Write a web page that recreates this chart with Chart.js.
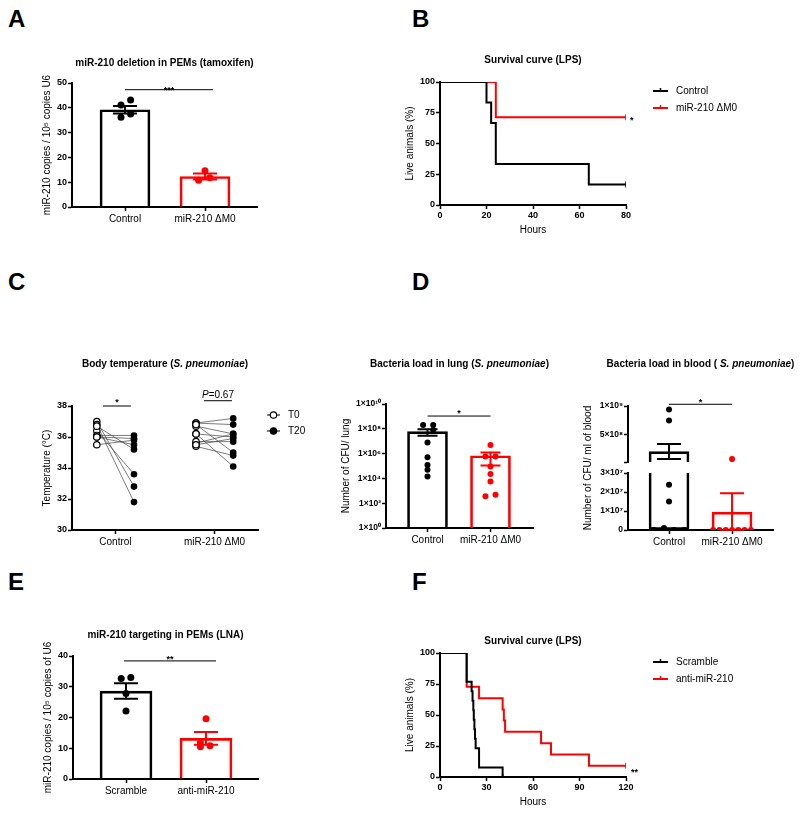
<!DOCTYPE html>
<html>
<head>
<meta charset="utf-8">
<title>miR-210 figure</title>
<script src="https://cdn.jsdelivr.net/npm/chart.js@4.4.1/dist/chart.umd.min.js"></script>
<style>
  html, body { margin: 0; background: #fff; }
  #fig { position: relative; width: 800px; height: 813px; overflow: hidden; font-family: "Liberation Sans", Arial, sans-serif; }
  #fig canvas { position: absolute; left: 0; top: 0; }
  .tag { position: absolute; font-size: 24px; font-weight: bold; line-height: 1; }
</style>
</head>
<body>
<div id="fig">
  <div class="tag" style="left:8px;top:7px">A</div>
  <div class="tag" style="left:412px;top:7px">B</div>
  <div class="tag" style="left:8px;top:270px">C</div>
  <div class="tag" style="left:412px;top:270px">D</div>
  <div class="tag" style="left:8px;top:570px">E</div>
  <div class="tag" style="left:412px;top:570px">F</div>
  <canvas id="chartA" width="800" height="813"></canvas>
  <canvas id="chartB" width="800" height="813"></canvas>
  <canvas id="chartC" width="800" height="813"></canvas>
  <canvas id="chartLung" width="800" height="813"></canvas>
  <canvas id="chartBloodTop" width="800" height="813"></canvas>
  <canvas id="chartBloodBot" width="800" height="813"></canvas>
  <canvas id="chartE" width="800" height="813"></canvas>
  <canvas id="chartF" width="800" height="813"></canvas>
</div>
<script>
// ---------- data ----------

// A - miR-210 deletion in PEMs (tamoxifen)
const aGroups = ['Control', 'miR-210 ΔM0'];
const aMean = [39.2, 12.3];
const aSem = [1.5, 1.2];
const aCtrl = [43.1, 41.1, 37.5, 36.2];
const aCtrlJitter = [0.07, -0.05, 0.07, -0.05];
const aKo = [14.6, 10.8, 11.8];
const aKoJitter = [0, -0.08, 0.06];

// B - survival curve (LPS)
const bSeries = ['Control', 'miR-210 ΔM0'];
const bCtrlTime = [0, 20, 22, 24, 64, 80];
const bCtrlSurv = [100, 83.3, 66.7, 33.3, 16.7, 16.7];
const bKoTime = [0, 24, 80];
const bKoSurv = [100, 71.4, 71.4];

// C - body temperature, paired T0 -> T20
const cGroups = ['Control', 'miR-210 ΔM0'];
const cSeries = ['T0', 'T20'];
const cCtrlT0 = [37.0, 36.8, 36.4, 36.1, 36.0, 36.0, 35.5, 36.7];
const cCtrlT20 = [32.8, 31.8, 33.6, 36.1, 35.9, 35.5, 35.8, 35.2];
const cKoT0 = [36.9, 36.9, 36.7, 36.8, 36.2, 36.2, 35.6, 35.7, 35.4, 35.5];
const cKoT20 = [37.2, 36.8, 36.2, 35.0, 36.0, 34.1, 36.2, 35.7, 34.8, 35.9];
const cSlots = [[0.8, 2.0], [4.0, 5.2]];
const cLabelAt = [1.4, 4.6];

// D - bacteria load in lung (log)
const lungMean = [6.0e7, 6.7e5];
const lungSem = [3.3e7, 5.6e5];
const lungCtrl = [2.0e8, 2.0e8, 8.1e7, 7.8e6, 5.1e5, 1.2e5, 4.9e4, 1.4e4];
const lungCtrlJitter = [-0.07, 0.09, 0.09, 0, 0, 0, 0, 0];
const lungKo = [5.0e6, 5.8e5, 5.8e5, 9.1e4, 2.3e4, 5.6e3, 3.6e2, 4.8e2];
const lungKoJitter = [0, -0.08, 0.08, 0, 0, 0, -0.08, 0.08];
const lungTicks = [1, 1e2, 1e4, 1e6, 1e8, 1e10];
const lungTickLabels = ['1×10⁰', '1×10²', '1×10⁴', '1×10⁶', '1×10⁸', '1×10¹⁰'];

// D - bacteria load in blood (broken axis)
const bloodMean = [2.1e8, 9.4e6];
const bloodSem = [1.3e8, 1.0e7];
const bloodCtrl = [9.4e8, 7.5e8, 2.38e7, 1.5e7, 1.0e6, 0, 0, 0];
const bloodCtrlJitter = [0, 0, 0, 0, -0.08, -0.24, 0.08, 0.24];
const bloodKo = [8.0e7, 0, 0, 0, 0, 0, 0, 0];
const bloodKoJitter = [0, -0.3, -0.2, -0.1, 0, 0.1, 0.2, 0.3];
const bloodTopTicks = [3e7, 5e8, 1e9];
const bloodTopLabels = ['', '5×10⁸', '1×10⁹'];
const bloodBotTicks = [0, 1e7, 2e7, 3e7];
const bloodBotLabels = ['0', '1×10⁷', '2×10⁷', '3×10⁷'];

// E - miR-210 targeting in PEMs (LNA)
const eGroups = ['Scramble', 'anti-miR-210'];
const eMean = [28.6, 13.2];
const eSem = [2.5, 2.1];
const eScr = [32.7, 33.0, 27.8, 22.1];
const eScrJitter = [-0.06, 0.06, 0, 0];
const eAnti = [19.6, 11.8, 10.5, 10.8];
const eAntiJitter = [0, -0.07, -0.07, 0.05];

// F - survival curve (LPS)
const fSeries = ['Scramble', 'anti-miR-210'];
const fScrTime = [0, 17.2, 20.4, 21, 21.5, 21.8, 22.2, 22.6, 23.0, 25.2, 40.4];
const fScrSurv = [100, 76.9, 69.2, 61.5, 53.8, 46.2, 38.5, 30.8, 23.1, 7.7, 0];
const fAntiTime = [0, 17.2, 25.2, 40.4, 41.2, 42, 65.2, 71.6, 96.1, 120];
const fAntiSurv = [100, 72.7, 63.6, 54.5, 45.5, 36.4, 27.3, 18.2, 9.1, 9.1];

// ---------- drawing helpers ----------
const FONT = '"Liberation Sans", Arial, Helvetica, sans-serif';
const BLACK = '#000000', RED = '#ff0000';
Chart.defaults.font.family = FONT;
Chart.defaults.color = BLACK;
const WY = 50;

const B10 = 'bold 10px ' + FONT, BI10 = 'italic bold 10px ' + FONT;
const AST = 'bold 9px ' + FONT;

function drawParts(ctx, parts, x, y, align, baseline) {
  ctx.textBaseline = baseline;
  ctx.textAlign = 'left';
  ctx.fillStyle = BLACK;
  let total = 0;
  parts.forEach(p => { ctx.font = p[1]; total += ctx.measureText(p[0]).width; });
  let cx = align === 'center' ? x - total / 2 : x;
  parts.forEach(p => { ctx.font = p[1]; ctx.fillText(p[0], cx, y); cx += ctx.measureText(p[0]).width; });
}

const extras = {
  id: 'extras',
  afterDatasetsDraw(chart, _args, o) {
    const ctx = chart.ctx, a = chart.chartArea;
    const xs = chart.scales.x, ys = chart.scales.y;
    ctx.save();
    if (o.err) {
      const e = o.err;
      ctx.save();
      ctx.beginPath();
      ctx.rect(a.left - 30, a.top - 1, a.right - a.left + 60, a.bottom - a.top + 2);
      ctx.clip();
      ctx.lineWidth = 2;
      e.mean.forEach((m, i) => {
        // skip error bars that fall entirely outside this axis segment
        if (m + e.sem[i] < ys.min || m - e.sem[i] > ys.max) return;
        const px = xs.getPixelForValue(i + 1);
        const hi = ys.getPixelForValue(m + e.sem[i]);
        const lo = ys.getPixelForValue(m - e.sem[i]);
        ctx.strokeStyle = e.colors[i];
        ctx.beginPath();
        ctx.moveTo(px, hi); ctx.lineTo(px, lo);
        ctx.moveTo(px - e.cap, hi); ctx.lineTo(px + e.cap, hi);
        ctx.moveTo(px - e.cap, lo); ctx.lineTo(px + e.cap, lo);
        ctx.stroke();
      });
      ctx.restore();
    }
    (o.sig || []).forEach(s => {
      const x1 = xs.getPixelForValue(s.x1), x2 = xs.getPixelForValue(s.x2), y = ys.getPixelForValue(s.y);
      ctx.strokeStyle = BLACK; ctx.lineWidth = 1;
      ctx.beginPath(); ctx.moveTo(x1, y); ctx.lineTo(x2, y); ctx.stroke();
      drawParts(ctx, s.parts, (x1 + x2) / 2, y + s.dy, 'center', 'alphabetic');
    });
    (o.notes || []).forEach(n => {
      drawParts(ctx, n.parts, xs.getPixelForValue(n.x) + n.dx, ys.getPixelForValue(n.y) + n.dy, 'left', 'alphabetic');
    });
    if (o.title) {
      drawParts(ctx, o.title.parts, (a.left + a.right) / 2 + (o.title.dx || 0), o.title.y, 'center', 'middle');
    }
    if (o.legend) {
      const lg = o.legend;
      lg.items.forEach((it, i) => {
        const x = a.right + lg.dx, y = a.top + lg.dy + i * lg.step;
        ctx.strokeStyle = it.color;
        ctx.lineWidth = lg.lw;
        ctx.beginPath(); ctx.moveTo(x, y); ctx.lineTo(x + lg.w, y); ctx.stroke();
        if (it.marker === 'tick') {
          ctx.lineWidth = 1.5;
          ctx.beginPath(); ctx.moveTo(x + lg.w / 2, y - 3); ctx.lineTo(x + lg.w / 2, y); ctx.stroke();
        } else if (it.marker) {
          ctx.beginPath(); ctx.arc(x + lg.w / 2, y, 3.2, 0, Math.PI * 2);
          ctx.fillStyle = it.marker === 'open' ? '#fff' : BLACK;
          ctx.fill();
          ctx.lineWidth = 1.2; ctx.strokeStyle = BLACK; ctx.stroke();
        }
        ctx.font = '10px ' + FONT;
        ctx.fillStyle = BLACK; ctx.textAlign = 'left'; ctx.textBaseline = 'middle';
        ctx.fillText(it.label, x + lg.tx, y);
      });
    }
    if (o.vtext) {
      ctx.translate(o.vtext.x, o.vtext.y);
      ctx.rotate(-Math.PI / 2);
      ctx.font = '10px ' + FONT; ctx.fillStyle = BLACK;
      ctx.textAlign = 'center'; ctx.textBaseline = 'middle';
      ctx.fillText(o.vtext.text, 0, 0);
    }
    ctx.restore();
  }
};
Chart.register(extras);

function layoutPad(box, hx) {
  return { left: box.L - WY, top: box.T, right: 800 - box.R, bottom: 813 - box.B - hx };
}
function xHeight(box) { return box.xTitleY ? box.xTitleY - box.B + 6 : 24; }

function xAxis(box, o) {
  const hx = xHeight(box);
  return {
    type: 'linear', position: 'bottom', offset: false, display: o.display !== false,
    min: o.min, max: o.max,
    afterFit: o.display === false ? undefined : s => { s.height = hx; },
    afterBuildTicks: o.ticks ? s => { s.ticks = o.ticks.map(v => ({ value: v })); } : undefined,
    border: { display: true, color: BLACK, width: 2 },
    grid: { offset: false, drawOnChartArea: false, tickLength: 4, tickWidth: 1.5, tickColor: BLACK },
    ticks: Object.assign({ color: BLACK, padding: 2, maxRotation: 0, minRotation: 0, autoSkip: false, font: { size: 10 } }, o.tick || {}),
    title: box.xTitle ? { display: true, text: box.xTitle, color: BLACK, font: { size: 10 }, padding: { top: 0, bottom: 0 } } : { display: false }
  };
}
function yAxis(box, o) {
  return {
    type: o.type || 'linear', position: 'left',
    min: o.min, max: o.max,
    afterFit: s => { s.width = WY; },
    afterBuildTicks: o.ticks ? s => { s.ticks = o.ticks.map(v => ({ value: v })); } : undefined,
    border: { display: true, color: BLACK, width: 2 },
    grid: { drawOnChartArea: false, tickLength: 4, tickWidth: 1.5, tickColor: BLACK },
    ticks: Object.assign({ color: BLACK, padding: 1, font: { size: 9, weight: 'bold' } }, o.tick || {}),
    title: box.yTitle ? { display: true, text: box.yTitle, color: BLACK, font: { size: 10 },
      padding: { top: box.yTitleX - (box.L - WY) - 6, bottom: 0 } } : { display: false }
  };
}
function baseOptions(box, hx, scales, ex) {
  return {
    responsive: false, animation: false, devicePixelRatio: 1, events: [],
    layout: { padding: layoutPad(box, hx) },
    plugins: { legend: { display: false }, tooltip: { enabled: false }, title: { display: false }, extras: ex },
    scales
  };
}

// bar + dots panel; an optional range limits it to one segment of a broken axis
function barPanel(id, box, s) {
  const lo = s.range ? s.range[0] : -Infinity, hi = s.range ? s.range[1] : Infinity;
  const dots = s.points.map(p => ({
    type: 'scatter',
    data: p.vals.map((v, i) => ({ x: p.slot + p.jitter[i], y: v })).filter(d => d.y >= lo && d.y <= hi),
    pointRadius: s.r, pointHoverRadius: s.r, pointBackgroundColor: p.color, pointBorderWidth: 0
  }));
  const bars = {
    type: 'bar',
    data: s.mean.map((v, i) => ({ x: i + 1, y: v < lo ? null : Math.min(v, hi) })),
    barThickness: s.barW, backgroundColor: 'rgba(255,255,255,0)', borderColor: s.colors, borderWidth: 2,
    borderSkipped: c => (s.mean[c.dataIndex] > hi ? 'top' : 'start')
  };
  const hx = s.hideX ? 0 : xHeight(box);
  return new Chart(document.getElementById(id), {
    type: 'scatter',
    data: { datasets: dots.concat([bars]) },
    options: baseOptions(box, hx, {
      x: xAxis(box, { min: s.xMin, max: s.xMax, ticks: [1, 2], display: !s.hideX,
        tick: { callback: (v, i) => s.groups[i] } }),
      y: yAxis(box, s.y)
    }, { err: { mean: s.mean, sem: s.sem, colors: s.colors, cap: s.cap }, sig: s.sig, title: s.title, vtext: s.vtext })
  });
}

// survival panel
function survPanel(id, box, s) {
  const sets = s.series.map(ser => ({
    data: ser.time.map((t, i) => ({ x: t, y: ser.surv[i] })),
    borderColor: ser.color, borderWidth: 2, stepped: 'before', fill: false,
    pointStyle: 'line', rotation: 90, pointBorderColor: ser.color, pointBorderWidth: 1.5,
    pointRadius: ser.time.map((t, i) => i === ser.time.length - 1 ? 3 : 0)
  }));
  return new Chart(document.getElementById(id), {
    type: 'line',
    data: { datasets: sets },
    options: baseOptions(box, xHeight(box), {
      x: xAxis(box, { min: 0, max: s.xMax, tick: { stepSize: s.xStep, font: { size: 9, weight: 'bold' }, padding: 1 } }),
      y: yAxis(box, { min: 0, max: 100, tick: { stepSize: 25 } })
    }, {
      title: s.title, notes: s.notes,
      legend: { dx: 27, dy: s.legendDy, step: 17, w: 15, tx: 23, lw: 2,
        items: s.series.map(ser => ({ label: ser.label, color: ser.color, marker: 'tick' })) }
    })
  });
}

// ---------- A ----------
barPanel('chartA', { L: 72, T: 83, R: 257, B: 207, yTitle: 'miR-210 copies / 10⁵ copies U6', yTitleX: 47 }, {
  groups: aGroups, mean: aMean, sem: aSem, colors: [BLACK, RED],
  points: [{ vals: aCtrl, jitter: aCtrlJitter, slot: 1, color: BLACK }, { vals: aKo, jitter: aKoJitter, slot: 2, color: RED }],
  xMin: 0.3375, xMax: 2.65, barW: 50, cap: 12, r: 3.5,
  y: { min: 0, max: 50, tick: { stepSize: 10 } },
  sig: [{ x1: 1, x2: 2.1, y: 47.3, dy: 3, parts: [['***', AST]] }],
  title: { y: 63, parts: [['miR-210 deletion in PEMs (tamoxifen)', B10]] }
});

// ---------- B ----------
survPanel('chartB', { L: 440, T: 82, R: 626, B: 205, yTitle: 'Live animals (%)', yTitleX: 410, xTitle: 'Hours', xTitleY: 230 }, {
  xMax: 80, xStep: 20, legendDy: 9,
  series: [
    { label: bSeries[0], time: bCtrlTime, surv: bCtrlSurv, color: BLACK },
    { label: bSeries[1], time: bKoTime, surv: bKoSurv, color: RED }
  ],
  notes: [{ x: 80, y: 71.4, dx: 4, dy: 6, parts: [['*', AST]] }],
  title: { y: 60, parts: [['Survival curve (LPS)', B10]] }
});

// ---------- C ----------
(function () {
  const box = { L: 72, T: 406, R: 258, B: 530, yTitle: 'Temperature (°C)', yTitleX: 47 };
  const groups = [[cCtrlT0, cCtrlT20], [cKoT0, cKoT20]];
  const t0 = [], t20 = [], pairs = [];
  groups.forEach((g, gi) => {
    g[0].forEach((v, i) => {
      t0.push({ x: cSlots[gi][0], y: v });
      t20.push({ x: cSlots[gi][1], y: g[1][i] });
      pairs.push({ x: cSlots[gi][0], y: v }, { x: cSlots[gi][1], y: g[1][i] }, { x: cSlots[gi][1], y: null });
    });
  });
  new Chart(document.getElementById('chartC'), {
    type: 'scatter',
    data: { datasets: [
      { data: t20, pointRadius: 3.3, pointHoverRadius: 3.3, pointBackgroundColor: BLACK, pointBorderWidth: 0 },
      { data: t0, pointRadius: 3.2, pointHoverRadius: 3.2, pointBackgroundColor: '#fff', pointBorderColor: BLACK, pointBorderWidth: 1.2 },
      { data: pairs, showLine: true, spanGaps: false, borderColor: '#444', borderWidth: 0.7, pointRadius: 0 }
    ] },
    options: baseOptions(box, xHeight(box), {
      x: xAxis(box, { min: 0, max: 6, ticks: cLabelAt, tick: { callback: (v, i) => cGroups[i] } }),
      y: yAxis(box, { min: 30, max: 38, tick: { stepSize: 2 } })
    }, {
      title: { y: 364, parts: [['Body temperature (', B10], ['S. pneumoniae', BI10], [')', B10]] },
      sig: [
        { x1: 1.0, x2: 1.9, y: 38, dy: -1, parts: [['*', AST]] },
        { x1: 4.26, x2: 5.16, y: 38.34, dy: -3, parts: [['P', 'italic 10px ' + FONT], ['=0.67', '10px ' + FONT]] }
      ],
      legend: { dx: 9, dy: 9, step: 16, w: 13, tx: 21, lw: 1,
        items: [{ label: cSeries[0], color: BLACK, marker: 'open' }, { label: cSeries[1], color: BLACK, marker: 'filled' }] }
    })
  });
})();

// ---------- D lung ----------
barPanel('chartLung', { L: 386, T: 404, R: 533, B: 528, yTitle: 'Number of CFU/ lung', yTitleX: 346 }, {
  groups: aGroups, mean: lungMean, sem: lungSem, colors: [BLACK, RED],
  points: [{ vals: lungCtrl, jitter: lungCtrlJitter, slot: 1, color: BLACK }, { vals: lungKo, jitter: lungKoJitter, slot: 2, color: RED }],
  xMin: 0.341, xMax: 2.675, barW: 40, cap: 10, r: 3,
  y: { type: 'logarithmic', min: 1, max: 1e10, ticks: lungTicks, tick: { callback: (v, i) => lungTickLabels[i], font: { size: 8.5, weight: 'bold' } } },
  sig: [{ x1: 1, x2: 2, y: 1.07e9, dy: 0, parts: [['*', AST]] }],
  title: { y: 364, parts: [['Bacteria load in lung (', B10], ['S. pneumoniae', BI10], [')', B10]] }
});

// ---------- D blood (broken axis: two stacked segments) ----------
const bloodBase = {
  groups: aGroups, mean: bloodMean, sem: bloodSem, colors: [BLACK, RED],
  points: [{ vals: bloodCtrl, jitter: bloodCtrlJitter, slot: 1, color: BLACK }, { vals: bloodKo, jitter: bloodKoJitter, slot: 2, color: RED }],
  xMin: 0.349, xMax: 2.65, barW: 40, cap: 12, r: 3
};
barPanel('chartBloodTop', { L: 628, T: 406, R: 773, B: 462 }, Object.assign({}, bloodBase, {
  range: [3e7, 1e9], hideX: true,
  y: { min: 3e7, max: 1e9, ticks: bloodTopTicks, tick: { callback: (v, i) => bloodTopLabels[i], font: { size: 8.5, weight: 'bold' } } },
  sig: [{ x1: 1, x2: 2, y: 1.03e9, dy: 1, parts: [['*', AST]] }],
  title: { y: 364, parts: [['Bacteria load in blood ( ', B10], ['S. pneumoniae', BI10], [')', B10]] }
}));
barPanel('chartBloodBot', { L: 628, T: 473, R: 773, B: 530 }, Object.assign({}, bloodBase, {
  range: [0, 3e7],
  y: { min: 0, max: 3e7, ticks: bloodBotTicks, tick: { callback: (v, i) => bloodBotLabels[i], font: { size: 8.5, weight: 'bold' } } },
  vtext: { x: 588, y: 468, text: 'Number of CFU/ ml of blood' }
}));

// ---------- E ----------
barPanel('chartE', { L: 73, T: 656, R: 258, B: 779, yTitle: 'miR-210 copies / 10⁵ copies of U6', yTitleX: 48 }, {
  groups: eGroups, mean: eMean, sem: eSem, colors: [BLACK, RED],
  points: [{ vals: eScr, jitter: eScrJitter, slot: 1, color: BLACK }, { vals: eAnti, jitter: eAntiJitter, slot: 2, color: RED }],
  xMin: 0.3375, xMax: 2.65, barW: 52, cap: 12, r: 3.5,
  y: { min: 0, max: 40, tick: { stepSize: 10 } },
  sig: [{ x1: 0.975, x2: 2.125, y: 38.4, dy: 1, parts: [['**', AST]] }],
  title: { y: 635, parts: [['miR-210 targeting in PEMs (LNA)', B10]] }
});

// ---------- F ----------
survPanel('chartF', { L: 440, T: 653, R: 626, B: 777, yTitle: 'Live animals (%)', yTitleX: 410, xTitle: 'Hours', xTitleY: 802 }, {
  xMax: 120, xStep: 30, legendDy: 9,
  series: [
    { label: fSeries[0], time: fScrTime, surv: fScrSurv, color: BLACK },
    { label: fSeries[1], time: fAntiTime, surv: fAntiSurv, color: RED }
  ],
  notes: [{ x: 120, y: 9.1, dx: 5, dy: 9, parts: [['**', AST]] }],
  title: { y: 641, parts: [['Survival curve (LPS)', B10]] }
});
</script>
</body>
</html>
